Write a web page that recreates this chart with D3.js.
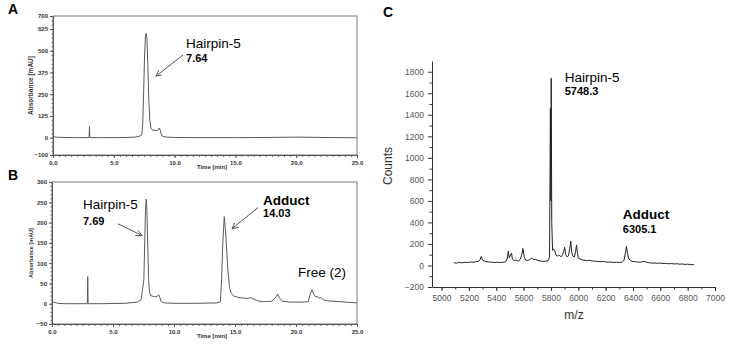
<!DOCTYPE html>
<html>
<head>
<meta charset="utf-8">
<script src="https://cdn.jsdelivr.net/npm/d3@7"></script>
<style>
    body { margin: 0; background: #fff; }
    svg { display: block; }
</style>
</head>
<body>
<script>
// ---------------------------------------------------------------------------
// data
// ---------------------------------------------------------------------------

// panel A: HPLC trace, time [min] vs absorbance [mAU]
var traceA = [
    [0.1, 5], [0.3, 2], [1, 1], [2, 0], [2.97, 0], [3.0, 67], [3.03, 0],
    [4, 0], [5, 0], [6, 1], [6.8, 3], [7.1, 8], [7.3, 15], [7.38, 80],
    [7.45, 250], [7.53, 470], [7.6, 580], [7.66, 600], [7.72, 570],
    [7.8, 420], [7.88, 220], [7.96, 100], [8.05, 55], [8.15, 45], [8.3, 42],
    [8.5, 40], [8.65, 44], [8.75, 55], [8.82, 42], [8.9, 20], [9.0, 8],
    [9.3, 3], [10, 1], [12, 0], [15, 0], [18, 1], [20, 3], [22, 1], [25, -1]
];
var yTicksA = [-100, 0, 125, 250, 375, 500, 625, 700];

// panel B: HPLC trace after reaction
var traceB = [
    [0.1, 4], [0.5, 1], [1, 0], [2.9, 0], [2.93, 67], [2.96, 0], [4, 0],
    [6, 1], [7.0, 4], [7.3, 10], [7.42, 35], [7.48, 47], [7.53, 60],
    [7.6, 150], [7.66, 230], [7.72, 258], [7.78, 230], [7.85, 140],
    [7.92, 60], [8.0, 28], [8.1, 20], [8.3, 18], [8.5, 17], [8.65, 19],
    [8.75, 22], [8.85, 15], [8.95, 5], [9.2, 2], [10, 1], [12, 1],
    [13.5, 2], [13.8, 5], [13.9, 60], [14.0, 150], [14.12, 215],
    [14.25, 170], [14.4, 90], [14.55, 40], [14.7, 25], [14.9, 19],
    [15.2, 16], [15.6, 14], [16.0, 13], [16.3, 15], [16.5, 12], [16.9, 7],
    [17.3, 5], [18.0, 6], [18.3, 14], [18.5, 24], [18.65, 14], [18.9, 6],
    [19.5, 4], [20.5, 4], [21.0, 5], [21.15, 22], [21.3, 34], [21.45, 24],
    [21.6, 17], [21.75, 18], [21.9, 13], [22.05, 15], [22.25, 10],
    [22.6, 7], [23.2, 6], [24, 4], [25, 2]
];
var yTicksB = [-50, 0, 50, 100, 150, 200, 250, 300];

var timeTicks = [0, 5, 10, 15, 20, 25];

// panel C: mass spectrum, m/z vs counts
var spectrumC = [
    [5090, 25], [5110, 22], [5130, 28], [5150, 24], [5170, 30], [5190, 27],
    [5210, 32], [5230, 30], [5250, 34], [5270, 38], [5280, 50], [5290, 84],
    [5300, 50], [5315, 40], [5330, 35], [5350, 32], [5370, 30], [5390, 28],
    [5410, 30], [5430, 27], [5450, 30], [5470, 35], [5480, 60], [5488, 133],
    [5495, 70], [5505, 100], [5512, 114], [5518, 60], [5530, 45],
    [5545, 50], [5560, 40], [5575, 55], [5585, 90], [5595, 158], [5605, 80],
    [5615, 50], [5630, 45], [5645, 55], [5660, 68], [5672, 55], [5685, 58],
    [5700, 48], [5720, 42], [5740, 38], [5760, 40], [5780, 45], [5790, 80],
    [5796, 1460], [5799, 600], [5802, 1740], [5806, 400], [5812, 140],
    [5820, 150], [5828, 140], [5836, 100], [5845, 85], [5855, 95],
    [5865, 93], [5875, 80], [5885, 100], [5893, 130], [5900, 170],
    [5908, 100], [5918, 80], [5928, 90], [5938, 160], [5945, 225],
    [5952, 120], [5962, 85], [5972, 80], [5980, 130], [5987, 190],
    [5994, 110], [6000, 70], [6020, 55], [6040, 50], [6060, 45], [6080, 48],
    [6100, 42], [6120, 40], [6140, 38], [6160, 35], [6180, 37], [6200, 33],
    [6220, 30], [6240, 32], [6260, 28], [6280, 30], [6300, 28], [6320, 30],
    [6335, 50], [6345, 120], [6352, 177], [6360, 110], [6370, 60],
    [6385, 45], [6400, 38], [6420, 35], [6440, 30], [6460, 32], [6480, 38],
    [6500, 30], [6520, 25], [6540, 22], [6560, 23], [6580, 20], [6600, 22],
    [6620, 18], [6640, 20], [6660, 16], [6680, 18], [6700, 14], [6720, 16],
    [6740, 12], [6760, 14], [6780, 10], [6800, 12], [6820, 8], [6845, 9]
];
var xTicksC = [5000, 5200, 5400, 5600, 5800, 6000, 6200, 6400, 6600, 6800, 7000];
var yTicksC = [-200, 0, 200, 400, 600, 800, 1000, 1200, 1400, 1600, 1800];

// peak labels, placed in data units
var labelsA = [
    {text: "Hairpin-5", sub: "7.64", x: 10.94, y: 514, sy: 435,
     from: [10.69, 475], to: [8.47, 354]}
];
var labelsB = [
    {text: "Hairpin-5", sub: "7.69", x: 2.54, y: 234, sy: 195,
     from: [5.41, 197], to: [7.38, 168]},
    {text: "Adduct", sub: "14.03", x: 17.3, y: 244, sy: 214, bold: true,
     from: [16.89, 237], to: [14.75, 185]},
    {text: "Free (2)", x: 20.16, y: 67}
];
var labelsC = [
    {text: "Hairpin-5", sub: "5748.3", x: 5901, y: 1702, sy: 1581},
    {text: "Adduct", sub: "6305.1", x: 6326, y: 428, sy: 298, bold: true}
];

// ---------------------------------------------------------------------------
var svg = d3.select("body").append("svg")
    .attr("width", 733)
    .attr("height", 344)
    .style("font-family", "'Liberation Sans', Arial, sans-serif");

// open arrow head for the HPLC labels
svg.append("defs").append("marker")
    .attr("id", "arrow")
    .attr("viewBox", "0 0 8 8")
    .attr("refX", 7).attr("refY", 4)
    .attr("markerWidth", 7).attr("markerHeight", 7)
    .attr("markerUnits", "userSpaceOnUse")
    .attr("orient", "auto")
    .append("path")
    .attr("d", "M0,0.5 L7,4 L0,7.5")
    .attr("fill", "none")
    .attr("stroke", "#555")
    .attr("stroke-width", 1);

// panel letters
[["A", 8, 14], ["B", 8, 180], ["C", 383, 17]].forEach(function(p) {
    svg.append("text")
        .attr("x", p[1]).attr("y", p[2])
        .attr("font-size", "14px")
        .attr("font-weight", "bold")
        .text(p[0]);
});

// draws one chromatogram panel (A or B)
function chromatogram(cfg) {
    var x = d3.scaleLinear().domain([0, 25]).range([cfg.left, 357]);
    var y = d3.scaleLinear().domain(cfg.yDomain).range([cfg.bottom, cfg.top]);
    var g = svg.append("g");

    // frame
    g.append("rect")
        .attr("x", cfg.left).attr("y", cfg.top)
        .attr("width", 357 - cfg.left)
        .attr("height", cfg.bottom - cfg.top)
        .attr("fill", "none")
        .attr("stroke", "#777")
        .attr("stroke-width", 1);

    // minor ticks
    g.append("g")
        .attr("transform", "translate(0," + cfg.bottom + ")")
        .call(d3.axisBottom(x).tickValues(d3.range(0, 25.01, 0.5))
            .tickSize(2).tickFormat(""))
        .call(function(a) { a.select(".domain").remove(); })
        .selectAll("line").attr("stroke", "#666");
    g.append("g")
        .attr("transform", "translate(" + cfg.left + ",0)")
        .call(d3.axisLeft(y).tickValues(d3.range(cfg.yDomain[0],
                cfg.yDomain[1] + 0.01, cfg.minor))
            .tickSize(1.5).tickFormat(""))
        .call(function(a) { a.select(".domain").remove(); })
        .selectAll("line").attr("stroke", "#666");

    // major ticks and labels
    var xa = g.append("g")
        .attr("transform", "translate(0," + cfg.bottom + ")")
        .call(d3.axisBottom(x).tickValues(timeTicks).tickSize(3)
            .tickPadding(3).tickFormat(d3.format(".1f")));
    var ya = g.append("g")
        .attr("transform", "translate(" + cfg.left + ",0)")
        .call(d3.axisLeft(y).tickValues(cfg.yTicks).tickSize(3)
            .tickPadding(2));
    [xa, ya].forEach(function(a) {
        a.select(".domain").attr("stroke", "#555");
        a.selectAll("line").attr("stroke", "#555");
        a.selectAll("text")
            .attr("font-size", "6px")
            .attr("font-weight", "bold")
            .attr("fill", "#333")
            .attr("font-family", "'Liberation Sans', Arial, sans-serif");
    });

    // axis titles
    g.append("text")
        .attr("transform", "translate(31," + ((cfg.top + cfg.bottom) / 2) +
            ") rotate(-90)")
        .attr("text-anchor", "middle")
        .attr("dy", "0.35em")
        .attr("font-size", cfg.titleSize)
        .attr("font-weight", "bold")
        .attr("fill", "#333")
        .text("Absorbance [mAU]");
    g.append("text")
        .attr("x", 212).attr("y", cfg.bottom + 14)
        .attr("text-anchor", "middle")
        .attr("font-size", "6px")
        .attr("font-weight", "bold")
        .attr("fill", "#333")
        .text("Time [min]");

    // trace
    g.append("path")
        .datum(cfg.trace)
        .attr("d", d3.line()
            .x(function(d) { return x(d[0]); })
            .y(function(d) { return y(d[1]); }))
        .attr("fill", "none")
        .attr("stroke", "#5a5a5a")
        .attr("stroke-width", 1);

    // labels and arrows
    cfg.labels.forEach(function(l) {
        g.append("text")
            .attr("x", x(l.x)).attr("y", y(l.y))
            .attr("font-size", "13.5px")
            .attr("font-weight", l.bold ? "bold" : "normal")
            .text(l.text);
        if (l.sub) {
            g.append("text")
                .attr("x", x(l.x)).attr("y", y(l.sy))
                .attr("font-size", "11px")
                .attr("font-weight", "bold")
                .text(l.sub);
        }
        if (l.from) {
            g.append("line")
                .attr("x1", x(l.from[0])).attr("y1", y(l.from[1]))
                .attr("x2", x(l.to[0])).attr("y2", y(l.to[1]))
                .attr("stroke", "#555")
                .attr("stroke-width", 1)
                .attr("marker-end", "url(#arrow)");
        }
    });
}

chromatogram({left: 53, top: 16, bottom: 155, yDomain: [-100, 700],
    yTicks: yTicksA, minor: 25, trace: traceA, labels: labelsA,
    titleSize: "6.5px"});
chromatogram({left: 52, top: 182, bottom: 324, yDomain: [-50, 300],
    yTicks: yTicksB, minor: 10, trace: traceB, labels: labelsB,
    titleSize: "5.5px"});

// ---------------------------------------------------------------------------
// panel C: mass spectrum
// ---------------------------------------------------------------------------
var xC = d3.scaleLinear().domain([4930, 7000]).range([432, 715]);
var yC = d3.scaleLinear().domain([-200, 1900]).range([287, 61]);
var gC = svg.append("g");

gC.append("g")
    .attr("transform", "translate(0,287)")
    .call(d3.axisBottom(xC).tickValues(d3.range(5000, 7001, 100))
        .tickSize(2.5).tickFormat(""))
    .call(function(a) { a.select(".domain").remove(); })
    .selectAll("line").attr("stroke", "#333");
gC.append("g")
    .attr("transform", "translate(432,0)")
    .call(d3.axisLeft(yC).tickValues(d3.range(-100, 1801, 200))
        .tickSize(2.5).tickFormat(""))
    .call(function(a) { a.select(".domain").remove(); })
    .selectAll("line").attr("stroke", "#333");

var xaC = gC.append("g")
    .attr("transform", "translate(0,287)")
    .call(d3.axisBottom(xC).tickValues(xTicksC).tickSize(4).tickPadding(4)
        .tickSizeOuter(0).tickFormat(d3.format("d")));
var yaC = gC.append("g")
    .attr("transform", "translate(432,0)")
    .call(d3.axisLeft(yC).tickValues(yTicksC).tickSize(4).tickPadding(4)
        .tickSizeOuter(0).tickFormat(d3.format("d")));
[xaC, yaC].forEach(function(a) {
    a.select(".domain").attr("stroke", "#333");
    a.selectAll("line").attr("stroke", "#333");
    a.selectAll("text")
        .attr("font-size", "8.5px")
        .attr("fill", "#555")
        .attr("font-family", "'Liberation Sans', Arial, sans-serif");
});

gC.append("text")
    .attr("transform", "translate(392,166) rotate(-90)")
    .attr("text-anchor", "middle")
    .attr("font-size", "12px")
    .attr("fill", "#333")
    .text("Counts");
gC.append("text")
    .attr("x", 574).attr("y", 319)
    .attr("text-anchor", "middle")
    .attr("font-size", "12px")
    .attr("fill", "#333")
    .text("m/z");

gC.append("path")
    .datum(spectrumC)
    .attr("d", d3.line()
        .x(function(d) { return xC(d[0]); })
        .y(function(d) { return yC(d[1]); }))
    .attr("fill", "none")
    .attr("stroke", "#222")
    .attr("stroke-width", 1);

labelsC.forEach(function(l) {
    gC.append("text")
        .attr("x", xC(l.x)).attr("y", yC(l.y))
        .attr("font-size", "13.5px")
        .attr("font-weight", l.bold ? "bold" : "normal")
        .text(l.text);
    gC.append("text")
        .attr("x", xC(l.x)).attr("y", yC(l.sy))
        .attr("font-size", "11px")
        .attr("font-weight", "bold")
        .text(l.sub);
});
</script>
</body>
</html>
